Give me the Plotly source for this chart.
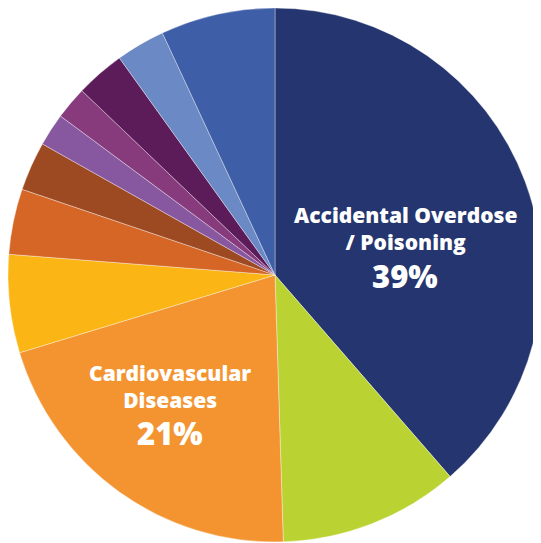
import plotly.graph_objects as go

labels = [
    "Accidental Overdose / Poisoning",
    "Category 2",
    "Cardiovascular Diseases",
    "Category 4",
    "Category 5",
    "Category 6",
    "Category 7",
    "Category 8",
    "Category 9",
    "Category 10",
    "Category 11",
]
values = [39, 11, 21, 6, 4, 3, 2, 2, 3, 3, 7]
colors = [
    "#24356F", "#BBD332", "#F49430", "#FBB515", "#D56626", "#9D4A22",
    "#8757A0", "#873B7D", "#5C1B59", "#6B8AC5", "#3F5EA8",
]

label_lines = {0: ["Accidental Overdose", "/ Poisoning"], 2: ["Cardiovascular", "Diseases"]}

W, H = 541, 543
OFF = 8  # page body margin shifts the figure by this many pixels

# label centres in page pixels: (x, name-block y, percent y)
label_pos = {0: (405, 229, 276), 2: (170, 386, 433)}

fig = go.Figure(
    go.Pie(
        labels=labels,
        values=values,
        sort=False,
        direction="clockwise",
        rotation=0,
        marker=dict(colors=colors, line=dict(color="rgba(255,255,255,0.6)", width=0.6)),
        textinfo="none",
        hoverinfo="label+percent",
        domain=dict(x=[0, 534 / W], y=[1 - 534 / H, 1]),
        showlegend=False,
    )
)

annotations = []
for i, lines in label_lines.items():
    x, yn, yp = label_pos[i]
    annotations.append(dict(
        x=(x - OFF) / W, y=1 - (yn - OFF) / H, xref="paper", yref="paper",
        text="<br>".join(lines), showarrow=False, borderpad=0,
        font=dict(family="Open Sans", size=21, color="white", weight=800),
        xanchor="center", yanchor="middle", align="center",
    ))
    annotations.append(dict(
        x=(x - OFF) / W, y=1 - (yp - OFF) / H, xref="paper", yref="paper",
        text=f"{values[i]}%", showarrow=False, borderpad=0,
        font=dict(family="Open Sans", size=31, color="white", weight=800),
        xanchor="center", yanchor="middle", align="center",
    ))

fig.update_layout(
    width=W, height=H,
    margin=dict(l=0, r=0, t=0, b=0),
    paper_bgcolor="white",
    plot_bgcolor="white",
    annotations=annotations,
)

fig.write_html("out.html")
